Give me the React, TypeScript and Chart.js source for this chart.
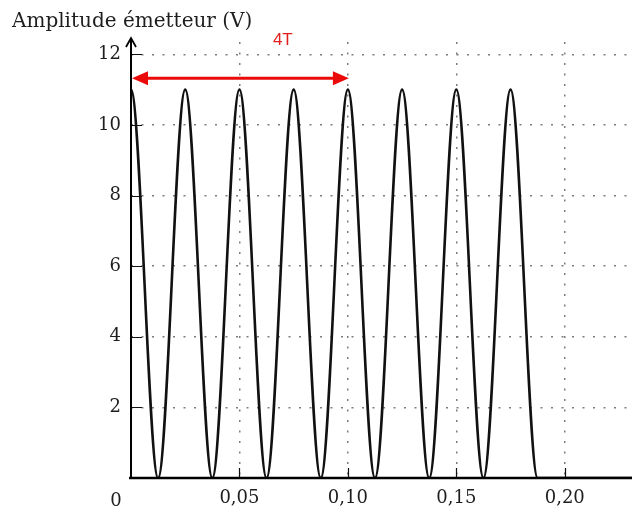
import { useEffect, useRef } from "react";
import { Chart, registerables } from "chart.js";

Chart.register(...registerables);

// Signal crests / troughs (time in s, amplitude in V)
const TIME_S = [0, 0.0125, 0.025, 0.0375, 0.05, 0.0625, 0.075, 0.0875, 0.1, 0.1125, 0.125, 0.1375, 0.15, 0.1625, 0.175, 0.1875, 0.231];
const AMPLITUDE_V = [11, 0, 11, 0, 11, 0, 11, 0, 11, 0, 11, 0, 11, 0, 11, 0, 0];

const X_TICKS = [0.05, 0.1, 0.15, 0.2];
const Y_TICKS = [2, 4, 6, 8, 10, 12];
const X_MIN = 0;
const X_MAX = 0.231;
const Y_MIN = 0;
const Y_MAX = 12.35;

const TITLE = "Amplitude émetteur (V)";
const ORIGIN_LABEL = "0";
const SPAN_LABEL = "4T";
const SPAN_FROM = 0;
const SPAN_TO = 0.1;
const SPAN_Y = 11.35;

const SERIF = "'DejaVu Serif', serif";
const TEXT = "#1e1e1e";
const RED = "rgb(235, 10, 10)";

export default function App() {
  const ref = useRef<HTMLCanvasElement | null>(null);

  useEffect(() => {
    const canvas = ref.current;
    if (!canvas) return;

    const points = TIME_S.map((t, i) => ({ x: t, y: AMPLITUDE_V[i] }));
    // repeat the first crest so the curve leaves x = 0 horizontally
    const data = [{ ...points[0] }, ...points];

    const decor = {
      id: "decor",
      afterDatasetsDraw(chart: any) {
        const { ctx, chartArea } = chart;
        const xs = chart.scales.x;
        const ys = chart.scales.y;
        const x0 = xs.getPixelForValue(0);
        const y0 = ys.getPixelForValue(0);
        ctx.save();
        // tick marks (inside)
        ctx.strokeStyle = "#111";
        ctx.lineWidth = 1.2;
        ctx.beginPath();
        for (const v of X_TICKS) {
          const px = Math.round(xs.getPixelForValue(v)) + 0.5;
          ctx.moveTo(px, y0);
          ctx.lineTo(px, y0 - 10);
        }
        for (const v of Y_TICKS) {
          const py = Math.round(ys.getPixelForValue(v)) + 0.5;
          ctx.moveTo(x0, py);
          ctx.lineTo(x0 + 11, py);
        }
        ctx.stroke();
        // x axis
        ctx.strokeStyle = "#000";
        ctx.lineWidth = 2.5;
        ctx.beginPath();
        ctx.moveTo(x0 - 2, y0);
        ctx.lineTo(chartArea.right, y0);
        ctx.stroke();
        // y axis with arrow
        ctx.lineWidth = 2;
        ctx.beginPath();
        ctx.moveTo(x0, y0 + 1);
        ctx.lineTo(x0, chartArea.top - 4);
        ctx.stroke();
        ctx.lineWidth = 1.8;
        ctx.beginPath();
        ctx.moveTo(x0 - 5, chartArea.top + 5);
        ctx.lineTo(x0, chartArea.top - 4);
        ctx.lineTo(x0 + 5, chartArea.top + 5);
        ctx.stroke();
        // span arrow
        const ax1 = xs.getPixelForValue(SPAN_FROM) + 1;
        const ax2 = xs.getPixelForValue(SPAN_TO) + 1;
        const ay = ys.getPixelForValue(SPAN_Y) + 1;
        const head = 16;
        const hw = 7;
        ctx.strokeStyle = RED;
        ctx.fillStyle = RED;
        ctx.lineWidth = 3;
        ctx.beginPath();
        ctx.moveTo(ax1 + head - 2, ay);
        ctx.lineTo(ax2 - head + 2, ay);
        ctx.stroke();
        ctx.beginPath();
        ctx.moveTo(ax1, ay);
        ctx.lineTo(ax1 + head, ay - hw);
        ctx.lineTo(ax1 + head, ay + hw);
        ctx.closePath();
        ctx.fill();
        ctx.beginPath();
        ctx.moveTo(ax2, ay);
        ctx.lineTo(ax2 - head, ay - hw);
        ctx.lineTo(ax2 - head, ay + hw);
        ctx.closePath();
        ctx.fill();
        // span label
        ctx.font = "17px 'Liberation Sans', sans-serif";
        ctx.textAlign = "center";
        ctx.textBaseline = "alphabetic";
        ctx.fillStyle = "rgb(225, 30, 30)";
        ctx.fillText(SPAN_LABEL, xs.getPixelForValue(0.07), 45);
        // title
        ctx.fillStyle = TEXT;
        ctx.font = `20px ${SERIF}`;
        ctx.textAlign = "left";
        ctx.fillText(TITLE, 12, 27);
        // origin label
        ctx.font = `18px ${SERIF}`;
        ctx.textAlign = "center";
        ctx.fillText(ORIGIN_LABEL, x0 - 15, 506);
        ctx.restore();
      },
    };

    const chart = new Chart(canvas, {
      type: "line",
      data: {
        datasets: [
          {
            data,
            borderColor: "#111",
            borderWidth: 2.6,
            pointRadius: 0,
            fill: false,
            cubicInterpolationMode: "monotone",
          },
        ],
      },
      options: {
        animation: false,
        responsive: false,
        devicePixelRatio: 1,
        layout: { padding: { left: 0, top: 42, right: 0, bottom: 0 } },
        plugins: { legend: { display: false }, tooltip: { enabled: false }, title: { display: false } },
        scales: {
          x: {
            type: "linear",
            min: X_MIN,
            max: X_MAX,
            afterBuildTicks: (s: any) => {
              s.ticks = X_TICKS.map((value) => ({ value }));
            },
            afterFit: (s: any) => {
              s.height = 32;
            },
            ticks: {
              autoSkip: false,
              maxRotation: 0,
              padding: 10,
              color: TEXT,
              font: { family: SERIF, size: 18 },
              callback: (v: any) => Number(v).toFixed(2).replace(".", ","),
            },
            grid: { color: "#7c7c7c", lineWidth: 1.5, drawTicks: false },
            border: { display: false, dash: [2, 8.5] },
          },
          y: {
            type: "linear",
            min: Y_MIN,
            max: Y_MAX,
            afterBuildTicks: (s: any) => {
              s.ticks = Y_TICKS.map((value) => ({ value }));
            },
            afterFit: (s: any) => {
              s.width = 131;
            },
            ticks: {
              padding: 10,
              color: TEXT,
              font: { family: SERIF, size: 18 },
              callback: (v: any) => String(v),
            },
            grid: { color: "#7c7c7c", lineWidth: 1.5, drawTicks: false },
            border: { display: false, dash: [2, 8.5] },
          },
        },
      },
      plugins: [decor],
    });

    return () => chart.destroy();
  }, []);

  return (
    <canvas
      ref={ref}
      width={632}
      height={510}
      style={{ position: "fixed", left: 0, top: 0, width: 632, height: 510, background: "#fff" }}
    />
  );
}
